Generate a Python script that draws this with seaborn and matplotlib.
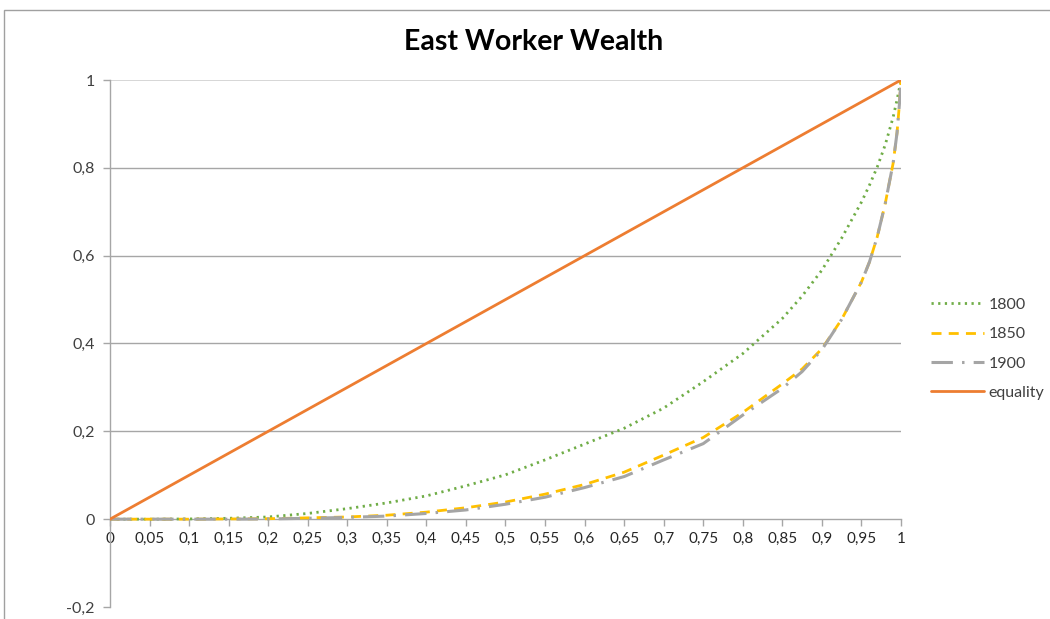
import matplotlib
matplotlib.use("Agg")
import matplotlib.pyplot as plt
from matplotlib.patches import Rectangle
import seaborn as sns
import pandas as pd

# Cumulative share of population (x) and of wealth held (y)
share_pop = [0, 0.05, 0.1, 0.15, 0.2, 0.25, 0.3, 0.35, 0.4, 0.45, 0.5, 0.55,
             0.6, 0.65, 0.7, 0.75, 0.8, 0.85, 0.875, 0.9, 0.925, 0.95, 0.96, 0.97,
             0.98, 0.99, 0.995, 0.998, 1]
wealth_1800 = [0, 0, 0.0005, 0.002, 0.005, 0.013, 0.024, 0.037, 0.053, 0.076, 0.101, 0.135,
               0.171, 0.207, 0.253, 0.313, 0.377, 0.457, 0.508, 0.567, 0.640, 0.722, 0.76, 0.802,
               0.852, 0.915, 0.955, 0.982, 1]
wealth_1850 = [0, 0, 0, 0.0005, 0.001, 0.003, 0.005, 0.009, 0.016, 0.026, 0.039, 0.057,
               0.079, 0.107, 0.146, 0.186, 0.243, 0.308, 0.342, 0.388, 0.455, 0.540, 0.585, 0.643,
               0.718, 0.81, 0.88, 0.945, 1]
wealth_1900 = [0, 0, 0, 0, 0.0005, 0.002, 0.004, 0.007, 0.013, 0.021, 0.034, 0.050,
               0.072, 0.097, 0.135, 0.172, 0.237, 0.298, 0.336, 0.386, 0.455, 0.540, 0.585, 0.643,
               0.718, 0.81, 0.88, 0.945, 1]
equality = share_pop

x_ticks = [i * 0.05 for i in range(21)]
x_labels = ["0", "0,05", "0,1", "0,15", "0,2", "0,25", "0,3", "0,35", "0,4", "0,45", "0,5",
            "0,55", "0,6", "0,65", "0,7", "0,75", "0,8", "0,85", "0,9", "0,95", "1"]
y_ticks = [-0.2, 0, 0.2, 0.4, 0.6, 0.8, 1]
y_labels = ["-0,2", "0", "0,2", "0,4", "0,6", "0,8", "1"]

sns.set_theme(style="white")
plt.rcParams["font.family"] = ["Lato", "DejaVu Sans"]

fig = plt.figure(figsize=(10.5, 6.19), dpi=100)
ax = fig.add_axes([110 / 1050, 1 - 607 / 619, 791 / 1050, (607 - 80) / 619])

grid_c = "#a6a6a6"
for yv in [0.2, 0.4, 0.6, 0.8]:
    ax.axhline(yv, color=grid_c, lw=1.0, zorder=0)
ax.axhline(1.0, color="#d0d0d0", lw=1.2, zorder=0)

series = [
    ("1800", wealth_1800, "#70AD47", (0, (0.8, 1.6)), 2.0),
    ("1850", wealth_1850, "#FFC000", (0, (3.6, 2.6)), 2.0),
    ("1900", wealth_1900, "#A5A5A5", (0, (7.0, 3.0, 0.8, 3.0)), 2.2),
    ("equality", equality, "#ED7D31", "-", 2.0),
]
for name, vals, col, ls, lw in series:
    df = pd.DataFrame({"x": share_pop, "y": vals})
    sns.lineplot(data=df, x="x", y="y", ax=ax, color=col, linestyle=ls, lw=lw,
                 label=name, zorder=3)

ax.set_xlim(0, 1)
ax.set_ylim(-0.2, 1)
ax.set_xticks(x_ticks)
ax.set_xticklabels(x_labels, fontsize=11.5, color="#404040")
ax.set_yticks(y_ticks)
ax.set_yticklabels(y_labels, fontsize=11.5, color="#404040")
ax.set_xlabel("")
ax.set_ylabel("")

for s in ["top", "right"]:
    ax.spines[s].set_visible(False)
ax.spines["bottom"].set_position(("data", 0))
ax.spines["bottom"].set_color(grid_c)
ax.spines["left"].set_color(grid_c)
ax.spines["bottom"].set_linewidth(1.0)
ax.spines["left"].set_linewidth(1.0)
ax.tick_params(axis="x", direction="out", length=5, width=1, color=grid_c, pad=4, bottom=True)
ax.tick_params(axis="y", direction="out", length=5, width=1, color=grid_c, pad=6, left=True)

leg = ax.legend(loc="center left", bbox_to_anchor=(1.02, 0.49), frameon=False,
                fontsize=11.5, handlelength=3.3, handletextpad=0.3, labelspacing=0.95)
for t in leg.get_texts():
    t.set_color("#404040")

fig.text(534 / 1050, 1 - 42 / 619, "East Worker Wealth", ha="center", va="center",
         fontsize=20.5, fontweight="bold", color="black")

fig.patches.append(Rectangle((4 / 1050, -0.05), 1.1, 1 - 10 / 619 + 0.05,
                             transform=fig.transFigure, fill=False,
                             edgecolor="#a0a0a0", lw=1.0))

fig.savefig("out.png", dpi=100, facecolor="white")
